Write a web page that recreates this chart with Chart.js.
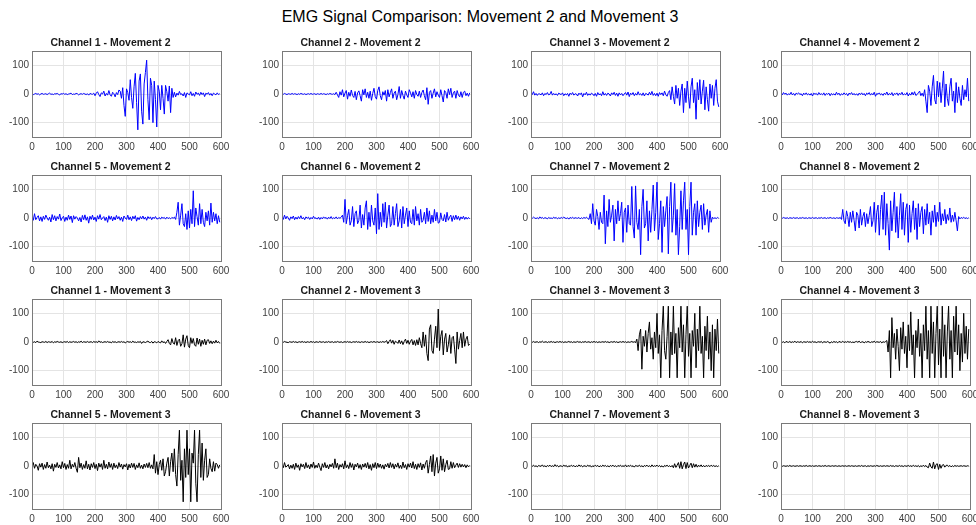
<!DOCTYPE html>
<html>
<head>
<meta charset="utf-8">
<script src="https://cdn.jsdelivr.net/npm/chart.js@4.4.0/dist/chart.umd.min.js"></script>
<style>
body { margin: 0; background: #fff; width: 976px; height: 525px; overflow: hidden; position: relative; font-family: "Liberation Sans", Arial, sans-serif; }
#title { position: absolute; left: 0; top: 8px; width: 960px; text-align: center; font-size: 16px; line-height: 18px; color: #000; }
canvas { position: absolute; }
</style>
</head>
<body>
<div id="title">EMG Signal Comparison: Movement 2 and Movement 3</div>
<script>
// one value every 4 samples (x = 0, 4, 8 ... 596)
var step = 4;
var xTicks = [0, 100, 200, 300, 400, 500, 600];
var yTicks = [-100, 0, 100];
var channels = ['Channel 1', 'Channel 2', 'Channel 3', 'Channel 4', 'Channel 5', 'Channel 6', 'Channel 7', 'Channel 8'];

// Movement 2
var m2c1 = [1,-2,0,2,-1,1,-3,0,2,-1,0,1,-2,1,3,-1,0,-2,1,0,2,-1,-3,1,0,2,-1,1,-2,0,1,3,-2,0,-1,2,1,-3,0,1,-1,2,0,-2,1,-4,2,0,-1,3,
  -6,3,8,-2,-9,4,0,10,-7,2,-4,12,-3,-8,6,1,-10,5,-2,14,
  10,-15,22,-40,-78,18,5,-22,50,-12,-50,25,72,-30,-125,45,70,-60,-105,35,75,118,-20,-90,55,30,-100,45,-20,-115,
  30,10,-55,30,-15,-70,30,8,-25,28,-65,20,-12,
  6,-10,3,-4,9,-2,1,-7,5,-12,4,0,-3,8,-6,2,-8,7,-1,3,-5,6,-2,4,-9,3,-1,5,-4,2,-6,3,0,-3,4,-2,1];
var m2c2 = [1,-1,2,0,-2,1,0,-1,2,-1,1,0,-2,1,-1,2,0,-1,1,-2,0,1,-1,2,-1,0,1,-2,1,0,-1,2,-1,1,0,-2,1,-1,2,0,-1,1,-2,6,-3,
  -12,8,-4,15,-10,3,12,-18,6,-8,14,-5,-12,9,-20,4,11,-6,-25,15,-3,18,-12,6,-15,10,-22,2,20,-9,
  -18,12,25,-6,-20,8,-4,12,-25,15,-10,5,18,-15,3,10,-20,-2,26,-15,12,-5,-18,10,-3,-12,15,4,-10,8,
  -15,12,-2,-8,10,-12,5,14,-6,-20,22,-36,6,12,-15,3,18,-10,8,-4,-12,15,-6,-28,12,5,-15,18,-2,20,
  -12,4,10,-15,12,-3,-10,8,-12,6,10,-6,3,-8,4];
var m2c3 = [3,-2,8,-4,2,-5,1,0,-3,4,-6,2,-2,5,-3,-1,9,-4,2,-3,1,-5,3,0,-2,4,-6,1,-3,2,-8,3,-2,5,-4,1,0,-7,3,-2,
  4,-10,2,-3,6,-5,1,-4,3,0,-6,2,-8,5,-3,1,-6,8,-4,2,-5,3,0,-7,4,-2,6,-5,3,-8,4,-3,2,-6,0,5,-4,7,-9,3,
  -2,5,-6,2,-4,8,-3,1,-5,4,-7,2,0,-4,6,-3,9,-5,2,-6,3,-8,5,-2,4,-6,10,-3,-8,5,
  12,-20,25,-8,-35,30,-15,20,-40,10,35,-65,20,-30,45,-10,-50,25,55,-30,
  15,-88,40,-20,50,-35,10,48,-55,25,-20,-60,35,-15,30,-40,20,50,-25,-45];
var m2c4 = [2,-3,5,-1,3,-4,1,-2,6,-3,2,-5,3,0,4,-2,1,-6,3,-2,4,-3,1,-4,2,-7,3,-1,2,-4,5,-2,1,-3,4,-5,2,-1,3,-6,
  2,-3,1,-4,6,-2,3,-5,1,-3,4,-2,2,-6,3,-1,5,-3,2,-4,1,-5,3,-2,4,-3,2,-6,3,-1,5,-4,2,-3,6,-8,2,-1,4,-3,
  1,-5,3,-2,7,-4,2,-3,5,-6,2,-1,4,-5,3,-2,6,-4,1,-3,5,-7,2,-4,6,-3,8,-5,-2,4,10,-6,3,-8,
  15,-25,-65,30,10,-40,25,65,-20,-35,45,-10,40,-30,20,80,-45,35,-15,-40,
  25,55,-25,10,-65,40,-30,25,-15,-40,30,-20,15,-10,55,-25];
var m2c5 = [5,-8,15,-6,2,8,-10,4,-12,6,-5,10,0,-8,3,-14,12,-6,8,-10,5,-4,14,-9,1,6,-12,3,-8,10,
  -5,7,-16,8,-4,5,0,-10,2,-14,9,-6,11,-8,4,-18,6,-5,10,-7,3,-12,8,-4,12,-6,0,5,-9,3,
  -15,8,-5,6,-10,4,-7,9,-3,5,-8,3,-12,7,0,-5,10,-6,4,-9,6,-3,8,-11,2,-6,5,-3,7,-4,3,-8,5,-2,4,-6,3,-2,5,-3,
  -3,2,-4,3,-1,2,-4,3,-2,1,-3,2,-1,3,-5,
  20,55,-25,10,50,-20,-30,15,-40,25,-35,30,-20,95,-30,35,5,-25,50,-20,
  30,-15,-30,20,-10,25,-25,52,-15,20,-10,15,-20,8,-15];
var m2c6 = [8,-5,10,-3,6,0,-8,4,-2,7,-6,3,-4,5,-2,8,-3,2,-6,4,-1,3,-5,2,-3,6,-2,1,-4,3,-5,2,-3,4,-1,2,-4,3,-2,5,
  -3,1,-2,4,-3,2,-1,3,
  10,-15,65,-20,8,30,-25,-10,40,-30,15,25,-20,-8,45,-35,12,-25,35,60,-40,20,-30,45,-10,-25,35,-55,85,-40,
  20,-30,50,-15,55,-35,10,45,-30,-20,40,-25,15,50,-30,-10,30,-35,40,-20,10,35,-30,25,-15,-20,30,-25,40,-10,
  15,-25,30,-15,-8,20,-20,35,-12,25,-20,10,-15,30,-10,20,-18,
  -15,18,-5,-10,12,-14,20,-8,3,10,-12,8,-6,10,-5,6,-8,4,-3,6,-5,3,-4,2,-3];
var m2c7 = [2,-1,3,0,-2,1,-3,4,-1,2,-2,1,0,-3,2,-1,0,-2,3,-1,2,-3,1,-2,2,-1,3,0,-2,1,-4,2,-1,3,-2,1,0,-1,2,-3,
  1,-2,2,-1,3,-2,
  -5,15,-20,50,-10,-25,30,5,-40,20,-15,-20,80,-90,25,-30,65,-15,10,45,-80,30,-20,60,-10,15,55,-85,20,35,
  -50,45,-20,-25,110,-30,-70,112,-15,-40,30,-128,40,100,-35,-20,60,-80,25,-50,
  30,115,-45,20,125,-75,-20,60,-120,40,-30,25,75,-125,40,125,-50,10,120,-60,
  30,-128,-30,95,-40,60,125,-40,30,-128,40,125,-60,20,50,-60,60,-30,20,45,
  -40,50,-25,10,30,-50,25,-15,
  3,-2,1,-2,2,-1];
var m2c8 = [1,-1,2,0,-1,1,-2,1,0,-1,2,-1,0,1,-2,1,-1,2,0,-1,1,-2,1,0,-1,2,-1,0,1,-2,1,-1,2,-1,0,1,-2,1,-1,2,
  0,-1,1,-2,1,0,-1,2,
  -5,30,-10,-20,25,5,-30,20,-15,25,-8,-45,20,10,-35,30,-25,5,20,-30,15,-20,8,40,-30,-10,55,-50,20,45,
  -60,30,80,-40,90,-60,50,-20,-112,60,-45,20,90,-50,40,-70,10,85,-40,55,-60,30,50,-85,45,-50,15,60,-40,35,
  -75,50,-30,20,40,-55,30,-25,50,-20,20,-60,25,-15,45,-30,20,-12,55,-25,15,-10,30,-20,12,-8,35,-15,10,-12,
  20,-10,-45,
  5,-3,2,-1,3,-2,1,-2,1];

// Movement 3
var m3c1 = [2,-1,1,-2,3,0,-1,-2,1,0,-1,2,-2,1,0,-1,2,-3,1,-1,2,0,-1,1,-2,0,1,-1,2,-2,1,-1,0,2,-1,1,-2,1,-1,3,
  -2,1,0,-1,2,-1,0,1,-2,2,-1,1,-2,4,-1,1,-2,0,1,-1,2,-1,0,-3,2,-1,1,-2,0,1,-1,2,-1,1,-3,0,2,-1,1,-2,
  3,-1,0,-2,1,-1,2,-5,1,0,-2,1,3,-1,-2,2,-4,1,0,-3,2,-1,-3,4,-2,1,-5,2,
  8,-5,-10,12,-3,-8,15,-12,5,10,-15,-6,25,-18,10,22,-12,-20,15,-5,
  12,-10,-15,14,-8,10,-15,6,-8,10,-10,6,8,-5,4,-6,3,-4,6,-3,2,-5];
var m3c2 = [1,-1,2,0,-1,-2,1,0,-1,2,-1,1,-2,0,1,-1,2,-1,1,-2,1,0,-1,2,-1,1,-2,1,0,-1,2,-1,0,1,-2,1,-1,2,-1,0,
  1,-2,1,-1,2,0,-1,1,-2,0,1,-1,2,-1,1,-2,0,1,-1,2,-1,1,-2,1,0,-1,2,-1,1,-2,0,1,-1,2,-1,0,1,-2,1,-1,
  2,-1,1,
  5,-6,2,8,-4,6,-8,3,0,-5,7,-6,4,-9,2,10,-5,6,-8,3,9,-10,5,-12,8,
  -10,15,-5,-20,35,-15,25,-40,-65,45,60,-30,-40,10,55,-20,115,-30,20,40,
  -45,10,30,-35,-10,25,-40,15,20,-25,-75,35,-25,5,30,-20,35,-15,10,20,-12,-8];
var m3c3 = [1,-1,2,-1,0,1,-2,1,-1,3,-1,0,1,-2,1,-1,2,-1,1,-2,0,1,-1,2,-1,1,-2,1,-1,0,2,-1,1,-2,1,-1,0,2,-1,1,
  -2,1,-1,2,-1,0,1,-2,1,-1,2,-1,1,-2,1,-1,0,1,-1,2,-1,1,-2,0,1,-1,2,-1,1,-2,0,1,-1,2,-1,1,-2,1,-1,0,
  2,-1,1,-2,
  10,-30,25,45,-95,20,-15,40,-35,30,70,-25,15,-60,35,-20,100,-40,25,-125,
  40,125,-30,-60,20,125,-125,35,-45,125,-40,30,-125,50,-20,125,-35,60,-125,25,
  125,-50,30,-125,40,-15,100,-90,45,-30,125,-40,20,-125,55,-30,90,-60,35,-100,
  60,-125,45,-30,80,-40];
var m3c4 = [2,-1,1,-3,2,0,-1,2,-2,1,-1,3,-2,1,0,-1,2,-3,1,0,-1,2,-1,1,-2,3,-1,1,-2,0,1,-1,2,-3,1,0,-1,2,-1,-4,
  1,-2,2,-1,1,-3,2,0,-1,3,-2,1,-1,2,-1,1,-2,0,-2,1,2,-1,3,-2,0,1,-3,1,-1,2,0,-2,1,-1,3,-2,1,0,-1,2,
  -3,1,-1,2,
  5,-35,40,-125,85,-20,30,-60,45,-15,-100,50,-25,70,-40,20,-90,60,-30,105,
  -45,25,-125,40,-20,80,-50,30,-125,60,-30,125,-60,40,-125,125,-40,70,-125,30,
  125,-80,45,-125,125,-50,60,-125,35,125,-60,40,-125,90,-35,125,-45,60,-100,30,
  -70,100,-40,55,-60,45];
var m3c5 = [-5,12,-8,6,0,-15,8,-4,10,-12,5,-8,14,-6,3,-10,8,-18,6,-5,12,-7,4,-10,15,-6,9,-12,5,-8,
  20,-10,6,-4,12,-8,-22,30,-6,10,-12,5,-8,18,-10,6,-14,8,-5,12,-9,6,-16,10,-4,8,-12,20,-8,6,
  -10,14,-5,8,-12,10,-6,4,-9,12,-4,7,-11,5,-3,8,-14,6,-7,10,-5,9,-12,4,-6,11,-8,3,-10,7,-5,9,-6,12,-8,4,-10,
  40,-25,15,-30,5,20,-15,25,-35,-20,10,30,-35,15,45,-20,
  60,-30,-70,40,125,-50,20,-125,60,-40,125,-30,60,-125,45,10,125,-60,-125,40,125,-40,80,-50,20,60,-40,
  -30,25,-8,-20,15,-18,10,5,-8,4];
var m3c6 = [8,-6,12,-4,0,5,-10,3,-8,6,-12,10,-5,4,-15,8,-3,6,-9,12,-6,4,-10,7,-5,14,-8,3,-6,10,
  -4,-16,8,-5,12,-7,4,-10,6,-3,9,-8,25,-6,10,-12,5,-4,8,-10,18,-6,4,-9,12,-5,8,-14,6,-3,
  10,-8,5,-12,7,-4,9,-6,12,-10,5,-15,8,-6,12,-9,10,-5,7,-8,4,-11,6,-3,9,-7,12,-5,8,-10,
  6,-4,11,-8,3,-9,14,-6,5,-12,8,-4,10,-7,15,-9,6,-12,8,-5,11,-14,7,-8,12,
  20,-25,5,35,-20,40,-35,10,30,-25,-10,35,-15,25,-20,5,20,-12,
  -10,15,-8,12,-6,3,10,-5,8,-4,6,-3,5,-6,4,-3,2];
var m3c7 = [2,-1,3,-2,1,-3,2,0,-1,4,-2,1,-3,2,-1,3,-2,1,-2,5,-1,2,-3,1,0,-2,3,-1,2,-4,1,-2,3,-1,2,-3,1,-2,4,-1,
  2,-3,1,0,-2,3,-1,2,-4,1,-2,3,-1,2,-3,1,-2,3,-1,2,-2,1,-3,2,-1,3,-2,1,-3,2,-1,3,-2,1,-2,4,-3,2,-1,3,
  -2,1,-4,2,0,-1,3,-2,1,-3,2,-1,3,-2,1,-3,4,-2,1,-1,3,-2,2,-3,1,-4,2,-1,3,-2,1,-3,2,
  -6,8,-5,3,12,-8,15,-10,5,14,-9,12,-7,2,10,-6,8,-4,6,
  -4,3,-2,4,-3,2,-3,2,-1,2,-2,3,-1,2,-2,1,-2,1];
var m3c8 = [1,-1,1,0,-1,1,-1,2,-1,0,1,-1,0,1,-1,1,0,-1,1,-1,2,-1,0,1,-1,1,-1,0,1,-1,1,0,-1,1,-1,2,-1,0,1,-1,
  0,1,-1,1,0,-1,1,-1,0,1,-1,1,-1,0,1,-1,1,0,-1,1,-1,0,1,-1,2,-1,0,1,-2,1,-1,1,0,-1,1,-1,2,0,-1,1,
  -1,0,1,-1,1,0,-1,2,-1,1,-2,1,0,-1,2,-1,1,-2,1,0,-1,2,-1,1,-2,3,-1,1,-2,2,-3,1,-2,3,-2,2,-4,
  -6,10,-3,-8,14,-10,5,8,-12,6,-8,3,5,-4,2,
  3,-2,2,-3,1,-2,2,-1,1,-1,0,1,-1,1,0,-1,1,0];

var movement2 = [m2c1, m2c2, m2c3, m2c4, m2c5, m2c6, m2c7, m2c8];
var movement3 = [m3c1, m3c2, m3c3, m3c4, m3c5, m3c6, m3c7, m3c8];

// plot area placement
var plotLeft = [32, 282, 531, 781];
var plotTop = [51, 175, 299, 423];
var plotW = 189, plotH = 86;
var yAxisW = 32, xAxisH = 20, titleH = 15, rightPad = 14;

var boxPlugin = {
  id: 'box',
  afterDraw: function(chart) {
    var a = chart.chartArea;
    var ctx = chart.ctx;
    ctx.save();
    ctx.strokeStyle = '#7a7a7a';
    ctx.lineWidth = 1;
    ctx.strokeRect(a.left + 0.5, a.top + 0.5, a.right - a.left, a.bottom - a.top);
    ctx.restore();
  }
};

var tickFont = { family: 'Liberation Sans', size: 10 };

function makeChart(row, col, values, color, title) {
  var cv = document.createElement('canvas');
  cv.width = yAxisW + plotW + rightPad;
  cv.height = titleH + plotH + xAxisH;
  cv.style.left = (plotLeft[col] - yAxisW) + 'px';
  cv.style.top = (plotTop[row] - titleH) + 'px';
  document.body.appendChild(cv);

  var pts = values.map(function(v, i) { return { x: i * step, y: v }; });

  new Chart(cv.getContext('2d'), {
    type: 'line',
    data: {
      datasets: [{
        data: pts,
        borderColor: color,
        borderWidth: 1,
        pointRadius: 0,
        tension: 0
      }]
    },
    options: {
      responsive: false,
      animation: false,
      devicePixelRatio: 1,
      layout: { padding: { top: 0, right: rightPad, bottom: 0, left: 0 } },
      plugins: {
        legend: { display: false },
        tooltip: { enabled: false },
        title: {
          display: true,
          text: title,
          color: '#1a1a1a',
          font: { family: 'Liberation Sans', size: 10.5, weight: 'bold', lineHeight: '14px' },
          padding: { top: 0, bottom: 1 }
        }
      },
      scales: {
        x: {
          type: 'linear',
          min: 0,
          max: 600,
          afterFit: function(s) { s.height = xAxisH; },
          afterBuildTicks: function(s) { s.ticks = xTicks.map(function(v) { return { value: v }; }); },
          ticks: { font: tickFont, color: '#404040', padding: 4, maxRotation: 0 },
          grid: { color: '#e4e4e4', drawTicks: false },
          border: { display: false }
        },
        y: {
          min: -150,
          max: 150,
          afterFit: function(s) { s.width = yAxisW; },
          afterBuildTicks: function(s) { s.ticks = yTicks.map(function(v) { return { value: v }; }); },
          ticks: { font: tickFont, color: '#404040', padding: 3 },
          grid: { color: '#e4e4e4', drawTicks: false },
          border: { display: false }
        }
      }
    },
    plugins: [boxPlugin]
  });
}

for (var i = 0; i < 8; i++) {
  makeChart(Math.floor(i / 4), i % 4, movement2[i], '#0000ff', channels[i] + ' - Movement 2');
  makeChart(2 + Math.floor(i / 4), i % 4, movement3[i], '#000000', channels[i] + ' - Movement 3');
}
</script>
</body>
</html>
